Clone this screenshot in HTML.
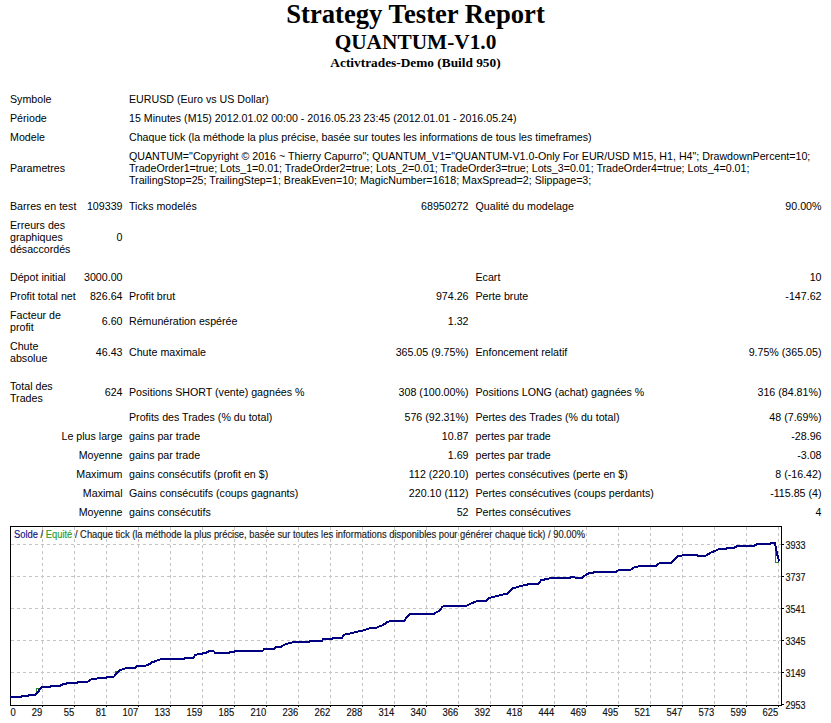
<!DOCTYPE html>
<html>
<head>
<meta charset="utf-8">
<title>Strategy Tester: QUANTUM-V1.0</title>
<style>
html,body{margin:0;padding:0;background:#fff;}
body{width:831px;height:723px;overflow:hidden;position:relative;font-family:"Liberation Sans",sans-serif;}
.t{position:absolute;white-space:nowrap;font:10.67px/12px "Liberation Sans",sans-serif;color:#000;}
.h{position:absolute;left:0;width:831px;text-align:center;white-space:nowrap;font-family:"Liberation Serif",serif;font-weight:bold;color:#000;}
#ch{position:absolute;left:0;top:0;}
#ch text{stroke-width:0.15px;}
</style>
</head>
<body>
<div class="h" style="top:-1px;font-size:26.67px;line-height:31px">Strategy Tester Report</div>
<div class="h" style="top:30px;font-size:21.33px;line-height:25px">QUANTUM-V1.0</div>
<div class="h" style="top:55px;font-size:13.33px;line-height:16px">Activtrades-Demo (Build 950)</div>
<span class="t" style="left:10px;top:93px">Symbole</span>
<span class="t" style="left:129px;top:93px">EURUSD (Euro vs US Dollar)</span>
<span class="t" style="left:10px;top:112px">Période</span>
<span class="t" style="left:129px;top:112px">15 Minutes (M15) 2012.01.02 00:00 - 2016.05.23 23:45 (2012.01.01 - 2016.05.24)</span>
<span class="t" style="left:10px;top:131px">Modele</span>
<span class="t" style="left:129px;top:131px">Chaque tick (la méthode la plus précise, basée sur toutes les informations de tous les timeframes)</span>
<span class="t" style="left:10px;top:162px">Parametres</span>
<span class="t" style="left:129px;top:150px">QUANTUM="Copyright © 2016 ~ Thierry Capurro"; QUANTUM_V1="QUANTUM-V1.0-Only For EUR/USD M15, H1, H4"; DrawdownPercent=10;</span>
<span class="t" style="left:129px;top:162px">TradeOrder1=true; Lots_1=0.01; TradeOrder2=true; Lots_2=0.01; TradeOrder3=true; Lots_3=0.01; TradeOrder4=true; Lots_4=0.01;</span>
<span class="t" style="left:129px;top:174px">TrailingStop=25; TrailingStep=1; BreakEven=10; MagicNumber=1618; MaxSpread=2; Slippage=3;</span>
<span class="t" style="left:10px;top:200px">Barres en test</span>
<span class="t" style="right:708.5px;top:200px">109339</span>
<span class="t" style="left:129px;top:200px">Ticks modelés</span>
<span class="t" style="right:362.5px;top:200px">68950272</span>
<span class="t" style="left:475.5px;top:200px">Qualité du modelage</span>
<span class="t" style="right:9.5px;top:200px">90.00%</span>
<span class="t" style="left:10px;top:219px">Erreurs des</span>
<span class="t" style="left:10px;top:231px">graphiques</span>
<span class="t" style="left:10px;top:243px">désaccordés</span>
<span class="t" style="right:708.5px;top:231px">0</span>
<span class="t" style="left:10px;top:271px">Dépot initial</span>
<span class="t" style="right:708.5px;top:271px">3000.00</span>
<span class="t" style="left:475.5px;top:271px">Ecart</span>
<span class="t" style="right:9.5px;top:271px">10</span>
<span class="t" style="left:10px;top:290px">Profit total net</span>
<span class="t" style="right:708.5px;top:290px">826.64</span>
<span class="t" style="left:129px;top:290px">Profit brut</span>
<span class="t" style="right:362.5px;top:290px">974.26</span>
<span class="t" style="left:475.5px;top:290px">Perte brute</span>
<span class="t" style="right:9.5px;top:290px">-147.62</span>
<span class="t" style="left:10px;top:309px">Facteur de</span>
<span class="t" style="left:10px;top:321px">profit</span>
<span class="t" style="right:708.5px;top:315px">6.60</span>
<span class="t" style="left:129px;top:315px">Rémunération espérée</span>
<span class="t" style="right:362.5px;top:315px">1.32</span>
<span class="t" style="left:10px;top:340px">Chute</span>
<span class="t" style="left:10px;top:352px">absolue</span>
<span class="t" style="right:708.5px;top:346px">46.43</span>
<span class="t" style="left:129px;top:346px">Chute maximale</span>
<span class="t" style="right:362.5px;top:346px">365.05 (9.75%)</span>
<span class="t" style="left:475.5px;top:346px">Enfoncement relatif</span>
<span class="t" style="right:9.5px;top:346px">9.75% (365.05)</span>
<span class="t" style="left:10px;top:380px">Total des</span>
<span class="t" style="left:10px;top:392px">Trades</span>
<span class="t" style="right:708.5px;top:386px">624</span>
<span class="t" style="left:129px;top:386px">Positions SHORT (vente) gagnées %</span>
<span class="t" style="right:362.5px;top:386px">308 (100.00%)</span>
<span class="t" style="left:475.5px;top:386px">Positions LONG (achat) gagnées %</span>
<span class="t" style="right:9.5px;top:386px">316 (84.81%)</span>
<span class="t" style="left:129px;top:411px">Profits des Trades (% du total)</span>
<span class="t" style="right:362.5px;top:411px">576 (92.31%)</span>
<span class="t" style="left:475.5px;top:411px">Pertes des Trades (% du total)</span>
<span class="t" style="right:9.5px;top:411px">48 (7.69%)</span>
<span class="t" style="right:708.5px;top:430px">Le plus large</span>
<span class="t" style="left:129px;top:430px">gains par trade</span>
<span class="t" style="right:362.5px;top:430px">10.87</span>
<span class="t" style="left:475.5px;top:430px">pertes par trade</span>
<span class="t" style="right:9.5px;top:430px">-28.96</span>
<span class="t" style="right:708.5px;top:449px">Moyenne</span>
<span class="t" style="left:129px;top:449px">gains par trade</span>
<span class="t" style="right:362.5px;top:449px">1.69</span>
<span class="t" style="left:475.5px;top:449px">pertes par trade</span>
<span class="t" style="right:9.5px;top:449px">-3.08</span>
<span class="t" style="right:708.5px;top:468px">Maximum</span>
<span class="t" style="left:129px;top:468px">gains consécutifs (profit en $)</span>
<span class="t" style="right:362.5px;top:468px">112 (220.10)</span>
<span class="t" style="left:475.5px;top:468px">pertes consécutives (perte en $)</span>
<span class="t" style="right:9.5px;top:468px">8 (-16.42)</span>
<span class="t" style="right:708.5px;top:487px">Maximal</span>
<span class="t" style="left:129px;top:487px">Gains consécutifs (coups gagnants)</span>
<span class="t" style="right:362.5px;top:487px">220.10 (112)</span>
<span class="t" style="left:475.5px;top:487px">Pertes consécutives (coups perdants)</span>
<span class="t" style="right:9.5px;top:487px">-115.85 (4)</span>
<span class="t" style="right:708.5px;top:506px">Moyenne</span>
<span class="t" style="left:129px;top:506px">gains consécutifs</span>
<span class="t" style="right:362.5px;top:506px">52</span>
<span class="t" style="left:475.5px;top:506px">Pertes consécutives</span>
<span class="t" style="right:9.5px;top:506px">4</span>
<svg id="ch" width="831" height="723" viewBox="0 0 831 723">
<path d="M11 544.5H781 M11 576.5H781 M11 608.5H781 M11 640.5H781 M11 672.5H781 M42.5 527V704 M74.5 527V704 M106.5 527V704 M138.5 527V704 M170.5 527V704 M202.5 527V704 M234.5 527V704 M266.5 527V704 M298.5 527V704 M330.5 527V704 M362.5 527V704 M394.5 527V704 M426.5 527V704 M458.5 527V704 M490.5 527V704 M522.5 527V704 M554.5 527V704 M586.5 527V704 M618.5 527V704 M650.5 527V704 M682.5 527V704 M714.5 527V704 M746.5 527V704 M778.5 527V704" stroke="#c4c4c4" stroke-width="1" stroke-dasharray="3 3" fill="none" shape-rendering="crispEdges"/>
<rect x="10.5" y="526.5" width="771" height="179" fill="none" stroke="#000" stroke-width="1" shape-rendering="crispEdges"/>
<path d="M42.5 706V707 M74.5 706V707 M106.5 706V707 M138.5 706V707 M170.5 706V707 M202.5 706V707 M234.5 706V707 M266.5 706V707 M298.5 706V707 M330.5 706V707 M362.5 706V707 M394.5 706V707 M426.5 706V707 M458.5 706V707 M490.5 706V707 M522.5 706V707 M554.5 706V707 M586.5 706V707 M618.5 706V707 M650.5 706V707 M682.5 706V707 M714.5 706V707 M746.5 706V707 M778.5 706V707 M782 544.5H784 M782 576.5H784 M782 608.5H784 M782 640.5H784 M782 672.5H784 M782 704.5H784" stroke="#000" stroke-width="1" fill="none" shape-rendering="crispEdges"/>
<path d="M36.5 691.5V688.5H38.5 M115.5 673V671.5H117 M775.5 550V562.5H779" stroke="#2a8a2a" stroke-width="1" fill="none" shape-rendering="crispEdges"/>
<polyline points="10,697 21,697 22,696 28,696 29,695 35.5,695 37,693 38.5,692 40,688.5 42,687 50.5,687 51,686 60,686 60.5,685 62.5,685 63,684 66.5,684 67,683 77,683 78,682 87.5,682 88.5,681 92,679 96.5,679 97.5,678 106,678 107,676.5 114,676.5 117,673 119.5,670.5 123,669 127,668 135,668 136.5,666 145,666 149.5,664 152,662.3 155.5,661.2 158.3,660 162,659 184,659 185,658 193,658 195.3,655 198.2,654 202,654 203,653 206,653 207.5,652 209.4,650.7 213.3,650.7 215.1,652.7 229.5,652.7 230,651.7 234.5,651.7 235,651 262.5,651 264.4,649 274,649 275.5,647 280.6,647 282,645.7 283.6,645.3 286.5,643.8 290.8,642.7 295.2,641.7 309,641.7 310.3,640.8 322,640.8 323.3,639 332,639 333.4,638 342,638 344,634.7 348,634 352.3,632.8 356,632 360.3,631.1 364,630.3 366.8,629.2 371,628 376.2,628 378.3,626.7 382.7,625.2 387,622.3 390.6,621 391.4,620.6 404.4,620.6 407.3,616.7 410.2,614.1 433.3,614.1 436.2,612.3 439.8,610.5 442,607.3 444.2,605.8 466.7,605.8 469.5,604.2 472.4,603 476.8,601.3 485.4,601.3 488.3,598.4 491.9,597.3 497,596 502,594.8 503.6,594.2 507.2,594.2 510.1,590.9 513,588.4 516.6,587.3 520.2,586 524.5,585.3 529.6,583.9 538.3,583.9 541.2,580.1 543.3,579.7 547.7,579 551.3,577.8 570.2,577.8 571,577 574.5,577 575.3,577.8 582.4,577.8 585.3,575.2 588.9,573.4 593.3,572.6 594.7,571.7 616.5,571.7 617.9,570.6 620.8,569.6 630.9,569.6 633.1,567.7 636,567 641,565.7 656.2,565.7 659.1,563.4 660.5,562.9 670.8,562.9 674.4,559.5 678.7,555.7 681.6,555.7 683.8,554.8 696.8,554.8 698.2,555.9 705.4,555.9 708.3,554.1 711.9,552.1 715.5,550.8 719.2,548.8 726.5,548.8 727.2,547.7 734.4,547.7 735.9,546.8 738.8,545.5 754.7,545.5 756.1,544.8 758.3,543.7 770.5,543.7 771.3,542.9 774.9,542.9 776,548 777,553.5 779.2,561.5" stroke="#000080" stroke-width="2" fill="none" stroke-linejoin="miter" shape-rendering="crispEdges"/>
<text x="14" y="537.8" font-family="Liberation Sans" font-size="10" textLength="571" lengthAdjust="spacingAndGlyphs" fill="#1a1a1a" stroke="#1a1a1a"><tspan fill="#10107f" stroke="#10107f">Solde</tspan> / <tspan fill="#2c9a2c" stroke="#2c9a2c">Equité</tspan> / Chaque tick (la méthode la plus précise, basée sur toutes les informations disponibles pour générer chaque tick) / 90.00%</text>
<text x="10.5" y="716" font-family="Liberation Sans" font-size="10" textLength="5.23" lengthAdjust="spacingAndGlyphs" fill="#111" stroke="#111">0</text>
<text x="31.84" y="716" font-family="Liberation Sans" font-size="10" textLength="10.46" lengthAdjust="spacingAndGlyphs" fill="#111" stroke="#111">29</text>
<text x="63.84" y="716" font-family="Liberation Sans" font-size="10" textLength="10.46" lengthAdjust="spacingAndGlyphs" fill="#111" stroke="#111">55</text>
<text x="95.84" y="716" font-family="Liberation Sans" font-size="10" textLength="10.46" lengthAdjust="spacingAndGlyphs" fill="#111" stroke="#111">81</text>
<text x="122.61" y="716" font-family="Liberation Sans" font-size="10" textLength="15.69" lengthAdjust="spacingAndGlyphs" fill="#111" stroke="#111">107</text>
<text x="154.61" y="716" font-family="Liberation Sans" font-size="10" textLength="15.69" lengthAdjust="spacingAndGlyphs" fill="#111" stroke="#111">133</text>
<text x="186.61" y="716" font-family="Liberation Sans" font-size="10" textLength="15.69" lengthAdjust="spacingAndGlyphs" fill="#111" stroke="#111">159</text>
<text x="218.61" y="716" font-family="Liberation Sans" font-size="10" textLength="15.69" lengthAdjust="spacingAndGlyphs" fill="#111" stroke="#111">185</text>
<text x="250.61" y="716" font-family="Liberation Sans" font-size="10" textLength="15.69" lengthAdjust="spacingAndGlyphs" fill="#111" stroke="#111">210</text>
<text x="282.61" y="716" font-family="Liberation Sans" font-size="10" textLength="15.69" lengthAdjust="spacingAndGlyphs" fill="#111" stroke="#111">236</text>
<text x="314.61" y="716" font-family="Liberation Sans" font-size="10" textLength="15.69" lengthAdjust="spacingAndGlyphs" fill="#111" stroke="#111">262</text>
<text x="346.61" y="716" font-family="Liberation Sans" font-size="10" textLength="15.69" lengthAdjust="spacingAndGlyphs" fill="#111" stroke="#111">288</text>
<text x="378.61" y="716" font-family="Liberation Sans" font-size="10" textLength="15.69" lengthAdjust="spacingAndGlyphs" fill="#111" stroke="#111">314</text>
<text x="410.61" y="716" font-family="Liberation Sans" font-size="10" textLength="15.69" lengthAdjust="spacingAndGlyphs" fill="#111" stroke="#111">340</text>
<text x="442.61" y="716" font-family="Liberation Sans" font-size="10" textLength="15.69" lengthAdjust="spacingAndGlyphs" fill="#111" stroke="#111">366</text>
<text x="474.61" y="716" font-family="Liberation Sans" font-size="10" textLength="15.69" lengthAdjust="spacingAndGlyphs" fill="#111" stroke="#111">392</text>
<text x="506.61" y="716" font-family="Liberation Sans" font-size="10" textLength="15.69" lengthAdjust="spacingAndGlyphs" fill="#111" stroke="#111">418</text>
<text x="538.61" y="716" font-family="Liberation Sans" font-size="10" textLength="15.69" lengthAdjust="spacingAndGlyphs" fill="#111" stroke="#111">444</text>
<text x="570.61" y="716" font-family="Liberation Sans" font-size="10" textLength="15.69" lengthAdjust="spacingAndGlyphs" fill="#111" stroke="#111">469</text>
<text x="602.61" y="716" font-family="Liberation Sans" font-size="10" textLength="15.69" lengthAdjust="spacingAndGlyphs" fill="#111" stroke="#111">495</text>
<text x="634.61" y="716" font-family="Liberation Sans" font-size="10" textLength="15.69" lengthAdjust="spacingAndGlyphs" fill="#111" stroke="#111">521</text>
<text x="666.61" y="716" font-family="Liberation Sans" font-size="10" textLength="15.69" lengthAdjust="spacingAndGlyphs" fill="#111" stroke="#111">547</text>
<text x="698.61" y="716" font-family="Liberation Sans" font-size="10" textLength="15.69" lengthAdjust="spacingAndGlyphs" fill="#111" stroke="#111">573</text>
<text x="730.61" y="716" font-family="Liberation Sans" font-size="10" textLength="15.69" lengthAdjust="spacingAndGlyphs" fill="#111" stroke="#111">599</text>
<text x="762.61" y="716" font-family="Liberation Sans" font-size="10" textLength="15.69" lengthAdjust="spacingAndGlyphs" fill="#111" stroke="#111">625</text>
<text x="785.5" y="548.8" font-family="Liberation Sans" font-size="10" textLength="20" lengthAdjust="spacingAndGlyphs" fill="#111" stroke="#111">3933</text>
<text x="785.5" y="580.8" font-family="Liberation Sans" font-size="10" textLength="20" lengthAdjust="spacingAndGlyphs" fill="#111" stroke="#111">3737</text>
<text x="785.5" y="612.8" font-family="Liberation Sans" font-size="10" textLength="20" lengthAdjust="spacingAndGlyphs" fill="#111" stroke="#111">3541</text>
<text x="785.5" y="644.8" font-family="Liberation Sans" font-size="10" textLength="20" lengthAdjust="spacingAndGlyphs" fill="#111" stroke="#111">3345</text>
<text x="785.5" y="676.8" font-family="Liberation Sans" font-size="10" textLength="20" lengthAdjust="spacingAndGlyphs" fill="#111" stroke="#111">3149</text>
<text x="785.5" y="708.8" font-family="Liberation Sans" font-size="10" textLength="20" lengthAdjust="spacingAndGlyphs" fill="#111" stroke="#111">2953</text>
</svg>
</body>
</html>
